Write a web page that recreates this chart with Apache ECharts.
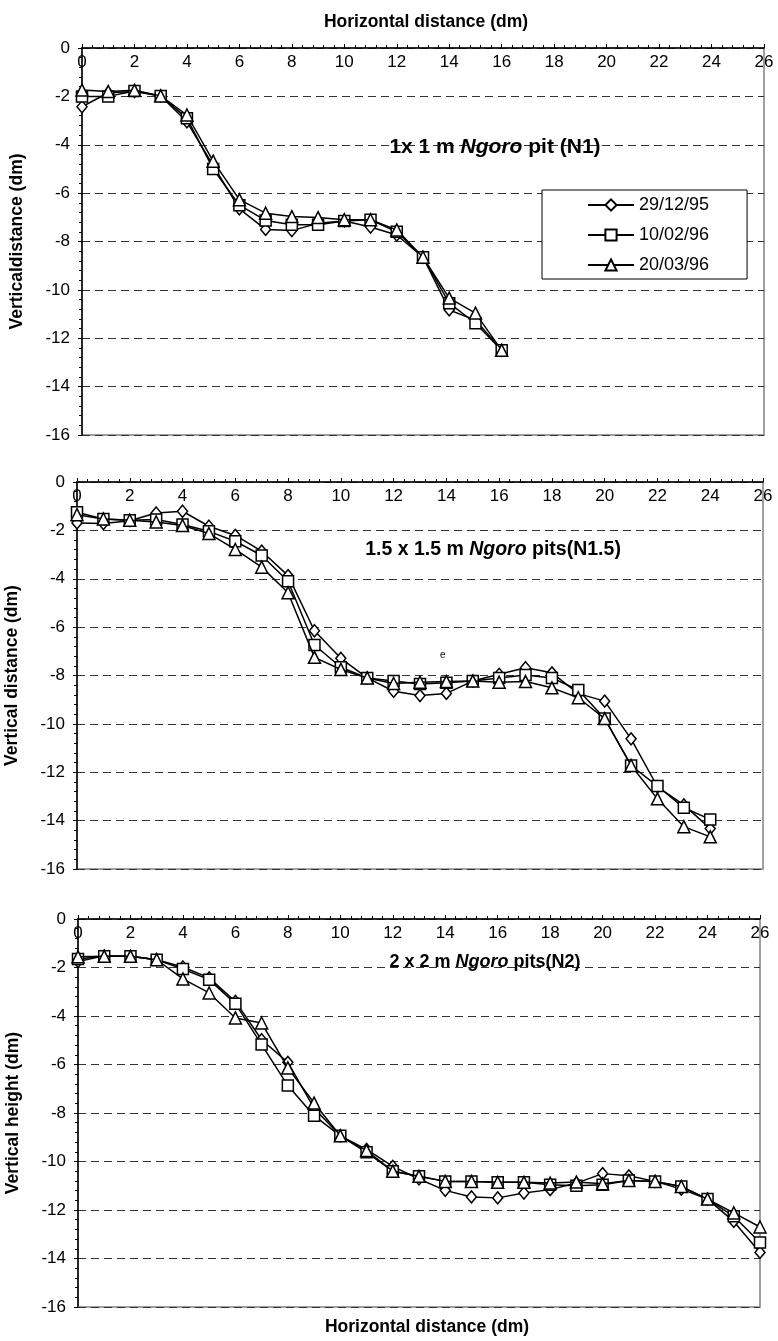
<!DOCTYPE html>
<html>
<head>
<meta charset="utf-8">
<script src="https://cdn.jsdelivr.net/npm/echarts@6/dist/echarts.min.js"></script>
<style>
  html, body { margin: 0; padding: 0; background: #fff; }
  #chart { width: 778px; height: 1341px; }
</style>
</head>
<body>
<div id="chart"></div>
<script>
// survey dates (legend)
var dates = ['29/12/95', '10/02/96', '20/03/96'];

// N1 : 1x1 m pit
var x1 = [0, 1, 2, 3, 4, 5, 6, 7, 8, 9, 10, 11, 12, 13, 14, 15, 16];
var n1a = [-2.43, -1.85, -1.8, -1.98, -3.05, -4.85, -6.65, -7.5, -7.55, -7.25, -7.15, -7.4, -7.73, -8.65, -10.83, -11.25, -12.5];
var n1b = [-2.0, -2.0, -1.78, -1.98, -2.9, -5.0, -6.5, -7.13, -7.31, -7.31, -7.15, -7.1, -7.6, -8.65, -10.55, -11.38, -12.5];
var n1c = [-1.74, -1.8, -1.75, -1.98, -2.77, -4.68, -6.27, -6.83, -6.97, -7.01, -7.1, -7.1, -7.52, -8.65, -10.34, -10.96, -12.5];

// N1.5 : 1.5x1.5 m pits
var x2 = [0, 1, 2, 3, 4, 5, 6, 7, 8, 9, 10, 11, 12, 13, 14, 15, 16, 17, 18, 19, 20, 21, 22, 23, 24];
var n2a = [-1.69, -1.72, -1.6, -1.28, -1.21, -1.83, -2.21, -2.86, -3.87, -6.15, -7.29, -8.1, -8.65, -8.83, -8.74, -8.23, -7.95, -7.68, -7.89, -8.75, -9.06, -10.62, -12.6, -13.35, -14.33];
var n2b = [-1.25, -1.53, -1.58, -1.55, -1.76, -2.04, -2.45, -3.04, -4.1, -6.74, -7.66, -8.1, -8.23, -8.35, -8.3, -8.23, -8.1, -7.98, -8.1, -8.6, -9.78, -11.72, -12.57, -13.47, -13.95];
var n2c = [-1.35, -1.53, -1.58, -1.65, -1.8, -2.13, -2.79, -3.52, -4.58, -7.25, -7.75, -8.1, -8.33, -8.28, -8.25, -8.23, -8.28, -8.25, -8.51, -8.92, -9.78, -11.72, -13.1, -14.25, -14.67];

// N2 : 2x2 m pits
var x3 = [0, 1, 2, 3, 4, 5, 6, 7, 8, 9, 10, 11, 12, 13, 14, 15, 16, 17, 18, 19, 20, 21, 22, 23, 24, 25, 26];
var n3a = [-1.75, -1.52, -1.54, -1.68, -1.98, -2.43, -3.4, -4.98, -5.91, -7.8, -8.94, -9.5, -10.2, -10.72, -11.19, -11.46, -11.5, -11.3, -11.16, -10.89, -10.5, -10.59, -10.82, -11.14, -11.55, -12.47, -13.75];
var n3b = [-1.65, -1.54, -1.54, -1.68, -2.06, -2.5, -3.49, -5.18, -6.87, -8.11, -8.94, -9.62, -10.4, -10.61, -10.82, -10.82, -10.86, -10.86, -10.96, -11.0, -10.96, -10.78, -10.82, -11.03, -11.55, -12.26, -13.34];
var n3c = [-1.56, -1.54, -1.54, -1.68, -2.47, -3.05, -4.08, -4.29, -6.14, -7.59, -8.94, -9.55, -10.4, -10.61, -10.82, -10.82, -10.86, -10.86, -10.89, -10.85, -10.92, -10.78, -10.82, -11.03, -11.55, -12.12, -12.7];

var yNames = ['Verticaldistance (dm)', 'Vertical distance (dm)', 'Vertical height (dm)'];
var symbols = ['diamond', 'rect', 'triangle'];
var symSizes = [[10, 12], 11, 12];

var FONT = '"Liberation Sans", Arial, sans-serif';

var panels = [
  { xs: x1, ys: [n1a, n1b, n1c], grid: { left: 82, right: 14, top: 48, height: 387 } },
  { xs: x2, ys: [n2a, n2b, n2c], grid: { left: 77, right: 15, top: 482, height: 387 } },
  { xs: x3, ys: [n3a, n3b, n3c], grid: { left: 78, right: 18, top: 919, height: 388 } }
];

function pairs(xs, ys) {
  return xs.map(function (x, i) { return [x, ys[i]]; });
}

var grids = [], xAxes = [], yAxes = [], series = [];
panels.forEach(function (p, k) {
  var g = p.grid;
  grids.push({
    left: g.left, right: g.right, top: g.top, height: g.height,
    show: true, borderColor: '#a0a0a0', borderWidth: 2,
    outerBoundsMode: 'none'
  });
  xAxes.push({
    type: 'value', gridIndex: k, position: 'top',
    min: 0, max: 26, interval: 2,
    axisLine: { show: true, onZero: false, lineStyle: { color: '#000', width: 1.5 } },
    axisTick: { show: true, length: 4, lineStyle: { color: '#000' } },
    minorTick: { show: true, splitNumber: 5, length: 3, lineStyle: { color: '#000' } },
    axisLabel: { inside: true, margin: 6, color: '#000', fontSize: 17, fontFamily: FONT },
    splitLine: { show: false }
  });
  yAxes.push({
    type: 'value', gridIndex: k,
    min: -16, max: 0, interval: 2,
    name: yNames[k], nameLocation: 'middle', nameGap: 56,
    nameTextStyle: { fontSize: 17.5, fontWeight: 'bold', color: '#000', fontFamily: FONT },
    axisLine: { show: true, onZero: false, lineStyle: { color: '#000', width: 1.5 } },
    axisTick: { show: true, length: 4, lineStyle: { color: '#000' } },
    minorTick: { show: true, splitNumber: 5, length: 3, lineStyle: { color: '#000' } },
    axisLabel: { color: '#000', fontSize: 17, fontFamily: FONT, margin: 12 },
    splitLine: { show: true, lineStyle: { color: '#333', width: 1, type: [8, 5] } }
  });
  p.ys.forEach(function (ys, j) {
    series.push({
      name: dates[j], type: 'line',
      xAxisIndex: k, yAxisIndex: k,
      data: pairs(p.xs, ys),
      symbol: symbols[j], symbolSize: symSizes[j],
      showAllSymbol: true,
      lineStyle: { color: '#000', width: 1.5 },
      itemStyle: { color: '#fff', borderColor: '#000', borderWidth: 1.5 },
      emphasis: { disabled: true },
      animation: false, z: 3 + j
    });
  });
});

function titleRich(size) {
  return {
    b: { fontSize: size, fontWeight: 'bold', color: '#000', fontFamily: FONT },
    i: { fontSize: size, fontWeight: 'bold', fontStyle: 'italic', color: '#000', fontFamily: FONT }
  };
}

var option = {
  backgroundColor: '#fff',
  animation: false,
  title: [
    { text: 'Horizontal distance (dm)', left: 421, top: 8, textAlign: 'center',
      textStyle: { fontSize: 17.5, fontWeight: 'bold', color: '#000', fontFamily: FONT } },
    { text: 'Horizontal distance (dm)', left: 422, top: 1313, textAlign: 'center',
      textStyle: { fontSize: 17.5, fontWeight: 'bold', color: '#000', fontFamily: FONT } },
    { text: '{b|1x 1 m }{i|Ngoro}{b| pit (N1)}', left: 490, top: 132, textAlign: 'center',
      textStyle: { rich: titleRich(21) } },
    { text: '{b|1.5 x 1.5 m }{i|Ngoro}{b| pits(N1.5)}', left: 488, top: 535, textAlign: 'center',
      textStyle: { rich: titleRich(19.5) } },
    { text: '{b|2 x 2 m }{i|Ngoro}{b| pits(N2)}', left: 480, top: 948, textAlign: 'center',
      textStyle: { rich: titleRich(18) } }
  ],
  legend: {
    data: dates,
    orient: 'vertical',
    left: 542, top: 190,
    padding: [6, 38, 5, 45],
    itemWidth: 46, itemHeight: 14, itemGap: 12,
    borderColor: '#000', borderWidth: 1,
    backgroundColor: '#fff',
    textStyle: { fontSize: 18, lineHeight: 16, color: '#000', fontFamily: FONT },
    selectedMode: false
  },
  graphic: [
    { type: 'text', left: 440, top: 650,
      style: { text: 'e', fill: '#000', font: '10px ' + FONT } }
  ],
  grid: grids,
  xAxis: xAxes,
  yAxis: yAxes,
  series: series
};

var chart = echarts.init(document.getElementById('chart'), null, { renderer: 'canvas' });
chart.setOption(option);
</script>
</body>
</html>
